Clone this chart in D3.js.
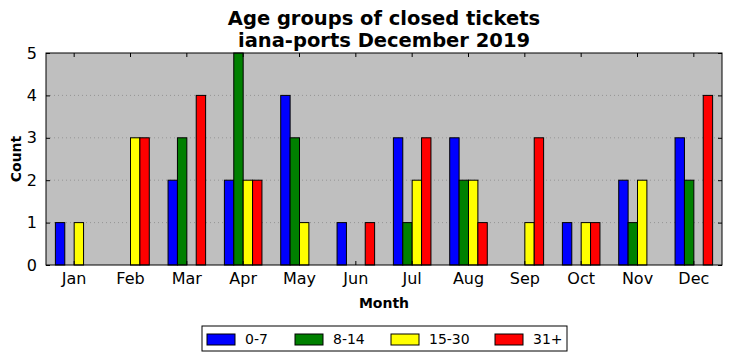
<!DOCTYPE html>
<html>
<head>
<meta charset="utf-8">
<script src="https://cdn.jsdelivr.net/npm/d3@7"></script>
<style>
  body { margin: 0; background: #fff; }
  text { font-family: "DejaVu Sans", sans-serif; }
</style>
</head>
<body>
<div id="chart"></div>
<script>
// data
var months = ["Jan", "Feb", "Mar", "Apr", "May", "Jun", "Jul", "Aug", "Sep", "Oct", "Nov", "Dec"];
var groups = ["0-7", "8-14", "15-30", "31+"];
var colors = ["#0000ff", "#008000", "#ffff00", "#ff0000"];
var age0_7   = [1, 0, 2, 2, 4, 1, 3, 3, 0, 1, 2, 3];
var age8_14  = [0, 0, 3, 5, 3, 0, 1, 2, 0, 0, 1, 2];
var age15_30 = [1, 3, 0, 2, 1, 0, 2, 2, 1, 1, 2, 0];
var age31    = [0, 3, 4, 2, 0, 1, 3, 1, 3, 1, 0, 4];
var yTicks = [0, 1, 2, 3, 4, 5];

var series = [age0_7, age8_14, age15_30, age31];

var W = 732, H = 361;
var pLeft = 46, pRight = 722, pTop = 53, pBottom = 265;

var svg = d3.select("#chart")
  .append("svg")
    .attr("width", W)
    .attr("height", H);

var x = d3.scaleBand()
    .domain(months)
    .range([pLeft, pRight])
    .padding(0);

var sub = d3.scaleBand()
    .domain(groups)
    .range([0, x.bandwidth() * 4 / 6]);

var y = d3.scaleLinear()
    .domain([0, 5])
    .range([pBottom, pTop]);

// plot background
svg.append("rect")
    .attr("x", pLeft).attr("y", pTop)
    .attr("width", pRight - pLeft).attr("height", pBottom - pTop)
    .style("fill", "#bfbfbf");

// grid lines
svg.append("g")
  .selectAll("line")
  .data(yTicks.slice(1, -1))
  .join("line")
    .attr("x1", pLeft).attr("x2", pRight)
    .attr("y1", function(d) { return y(d); })
    .attr("y2", function(d) { return y(d); })
    .style("stroke", "#8a8a8a")
    .style("stroke-width", 0.8)
    .style("stroke-dasharray", "1,3");

// bars
groups.forEach(function(g, gi) {
  svg.append("g")
    .selectAll("rect")
    .data(series[gi])
    .join("rect")
      .attr("x", function(d, i) { return x(months[i]) + x.bandwidth() / 6 + sub(g); })
      .attr("y", function(d) { return y(d); })
      .attr("width", sub.bandwidth())
      .attr("height", function(d) { return pBottom - y(d); })
      .style("fill", colors[gi])
      .style("stroke", "#000")
      .style("stroke-width", 1);
});

// frame
svg.append("rect")
    .attr("x", pLeft).attr("y", pTop)
    .attr("width", pRight - pLeft).attr("height", pBottom - pTop)
    .style("fill", "none")
    .style("stroke", "#000")
    .style("stroke-width", 1);

// axes: ticks inside
var xBottom = d3.axisBottom(x).tickSizeInner(-4).tickSizeOuter(0).tickPadding(8);
var xTop = d3.axisTop(x).tickSizeInner(-4).tickSizeOuter(0).tickFormat("");
var yLeft = d3.axisLeft(y).tickValues(yTicks).tickFormat(d3.format("d"))
    .tickSizeInner(-4).tickSizeOuter(0).tickPadding(9);
var yRight = d3.axisRight(y).tickValues(yTicks).tickSizeInner(-4).tickSizeOuter(0).tickFormat("");

function styleAxis(g) {
  g.select(".domain").remove();
  g.selectAll("text").style("font-size", "16px").style("fill", "#000")
    .style("font-family", "'DejaVu Sans', sans-serif");
}

svg.append("g").attr("transform", "translate(0," + pBottom + ")").call(xBottom).call(styleAxis);
svg.append("g").attr("transform", "translate(0," + pTop + ")").call(xTop).call(styleAxis);
svg.append("g").attr("transform", "translate(" + pLeft + ",0)").call(yLeft).call(styleAxis);
svg.append("g").attr("transform", "translate(" + pRight + ",0)").call(yRight).call(styleAxis);

// titles
svg.append("text")
    .attr("x", (pLeft + pRight) / 2).attr("y", 25)
    .attr("text-anchor", "middle")
    .style("font-size", "19.5px").style("font-weight", "bold")
    .text("Age groups of closed tickets");
svg.append("text")
    .attr("x", (pLeft + pRight) / 2).attr("y", 47)
    .attr("text-anchor", "middle")
    .style("font-size", "19.5px").style("font-weight", "bold")
    .text("iana-ports December 2019");

svg.append("text")
    .attr("x", (pLeft + pRight) / 2).attr("y", 308)
    .attr("text-anchor", "middle")
    .style("font-size", "14px").style("font-weight", "bold")
    .text("Month");

svg.append("text")
    .attr("transform", "translate(21," + ((pTop + pBottom) / 2) + ") rotate(-90)")
    .attr("text-anchor", "middle")
    .style("font-size", "14px").style("font-weight", "bold")
    .text("Count");

// legend
var legend = svg.append("g").attr("transform", "translate(202,326)");
legend.append("rect")
    .attr("width", 365).attr("height", 25)
    .style("fill", "#fff").style("stroke", "#000").style("stroke-width", 1);
var legendX = [5, 93, 189, 293];
groups.forEach(function(g, gi) {
  var item = legend.append("g").attr("transform", "translate(" + legendX[gi] + ",0)");
  item.append("rect")
      .attr("x", 0).attr("y", 8)
      .attr("width", 28).attr("height", 11)
      .style("fill", colors[gi]).style("stroke", "#000");
  item.append("text")
      .attr("x", 38).attr("y", 18)
      .style("font-size", "14px")
      .text(g);
});
</script>
</body>
</html>
